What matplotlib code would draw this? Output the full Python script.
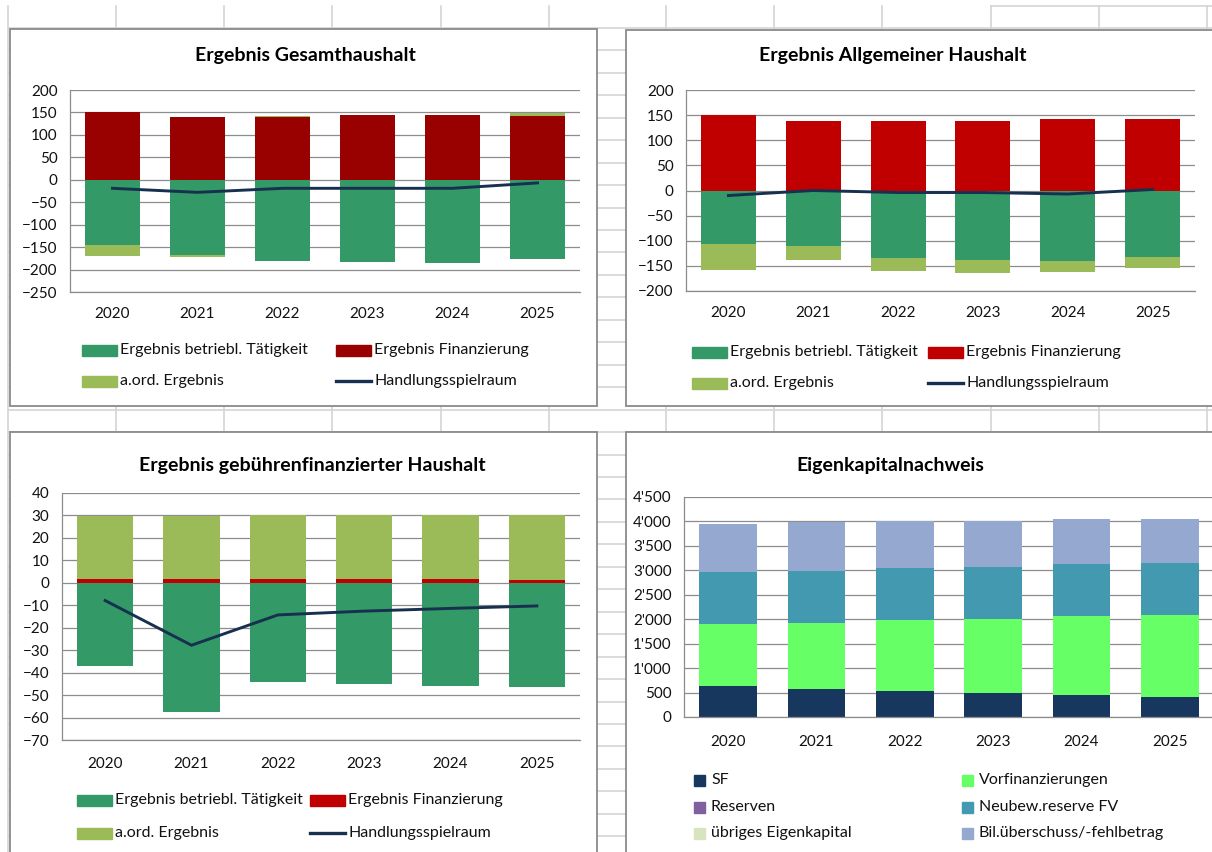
import matplotlib
matplotlib.use('Agg')
import matplotlib.pyplot as plt
from matplotlib.patches import Rectangle
from matplotlib.ticker import FuncFormatter

plt.rcParams['font.family'] = ['Lato', 'DejaVu Sans']

W, H = 1212, 852

years = ['2020', '2021', '2022', '2023', '2024', '2025']

# Ergebnis Gesamthaushalt
gh_betrieb = [-145, -168, -180, -184, -186, -177]
gh_finanz = [151, 140, 140, 144, 144, 143]
gh_aord = [-24, -3, 3, 1, 1, 6]
gh_hsr = [-19, -28, -19, -19, -19, -7]

# Ergebnis Allgemeiner Haushalt
ah_betrieb = [-107, -111, -134, -138, -141, -132]
ah_finanz = [150, 139, 139, 139, 142, 142]
ah_aord = [-51, -27, -27, -26, -22, -23]
ah_hsr = [-10, 0, -4, -4, -7, 2]

# Ergebnis gebührenfinanzierter Haushalt
gf_betrieb = [-37.2, -57.7, -44.3, -44.9, -46.1, -46.5]
gf_finanz = [1.8, 1.8, 1.8, 1.8, 1.8, 1.2]
gf_aord = [27.8, 27.8, 28.2, 28.2, 28.2, 28.8]
gf_hsr = [-7.9, -27.8, -14.3, -12.6, -11.4, -10.3]

# Eigenkapitalnachweis
ek_sf = [642, 568, 534, 486, 459, 405]
ek_vorfin = [1263, 1364, 1452, 1521, 1609, 1683]
ek_reserven = [0, 0, 0, 0, 0, 0]
ek_neubew = [1054, 1054, 1055, 1061, 1060, 1054]
ek_uebrig = [0, 0, 0, 0, 0, 0]
ek_bil = [994, 994, 973, 946, 913, 899]

C_BETRIEB = '#339966'
C_AORD = '#9BBB59'
C_LINE = '#17304F'
C_GRID = '#8C8C8C'
C_SF = '#17375E'
C_VORFIN = '#66FF66'
C_RES = '#7F5F9E'
C_NEUBEW = '#4399B0'
C_UEBRIG = '#D7E4BD'
C_BIL = '#95A9D0'

TICK_FS = 11
LEG_FS = 11.5
TITLE_FS = 14

fig = plt.figure(figsize=(W / 100, H / 100), dpi=100)

# excel sheet background
bg = fig.add_axes([0, 0, 1, 1])
bg.set_xlim(0, W)
bg.set_ylim(H, 0)
bg.axis('off')
col_x = [8, 116, 224, 332, 441, 549, 666, 774, 882, 991, 1099, 1207]
for cx in col_x:
    bg.plot([cx, cx], [6, H], color='#D4D4D4', lw=1.2, zorder=1)
r = 28.0
while r < H:
    bg.plot([8, W], [r, r], color='#D4D4D4', lw=1.2, zorder=1)
    r += 22.45
bg.plot([991, W], [6, 6], color='#D4D4D4', lw=1.2, zorder=1)

frames = [(10, 29, 597, 406), (626, 30, 1214, 406),
          (10, 432, 597, 856), (626, 432, 1214, 856)]
for x0, y0, x1, y1 in frames:
    bg.add_patch(Rectangle((x0, y0), x1 - x0, y1 - y0, facecolor='white',
                           edgecolor='#8A8A8A', lw=1.3, zorder=2))


def px_axes(x0, y0, x1, y1):
    return fig.add_axes([x0 / W, 1 - y1 / H, (x1 - x0) / W, (y1 - y0) / H])


def style_axes(ax, lo, hi, step, xpad, fmt=None):
    ax.set_facecolor('none')
    ax.set_xlim(-0.5, 5.5)
    ax.set_ylim(lo, hi)
    ticks = [lo + i * step for i in range(int(round((hi - lo) / step)) + 1)]
    ax.set_yticks(ticks)
    if fmt:
        ax.yaxis.set_major_formatter(FuncFormatter(fmt))
    ax.set_xticks(range(len(years)))
    ax.set_xticklabels(years)
    ax.tick_params(length=0, labelsize=TICK_FS, labelcolor='#111111')
    ax.tick_params(axis='x', pad=xpad)
    ax.tick_params(axis='y', pad=9)
    ax.yaxis.grid(True, color=C_GRID, lw=0.9)
    ax.set_axisbelow(True)
    for s in ['top', 'right']:
        ax.spines[s].set_visible(False)
    for s in ['left', 'bottom']:
        ax.spines[s].set_color(C_GRID)
        ax.spines[s].set_linewidth(0.9)


def stacked(ax, series, colors, width=0.65):
    pos = [0.0] * len(years)
    neg = [0.0] * len(years)
    for vals, col in zip(series, colors):
        bottoms = []
        for i, v in enumerate(vals):
            if v >= 0:
                bottoms.append(pos[i])
                pos[i] += v
            else:
                bottoms.append(neg[i])
                neg[i] += v
        ax.bar(range(len(years)), vals, bottom=bottoms, width=width,
               color=col, linewidth=0, zorder=2)


def legend_entry(x, y, label, color, kind='bar', w=35, h=11, gap=3):
    if kind == 'bar':
        bg.add_patch(Rectangle((x, y - h / 2), w, h, color=color, zorder=3))
    else:
        bg.plot([x, x + w], [y, y], color=color, lw=2.4, zorder=3)
    bg.text(x + w + gap, y, label, ha='left', va='center', fontsize=LEG_FS,
            color='#111111', zorder=3)


def result_chart(box, lo, hi, step, betrieb, finanz, aord, hsr, red,
                 title, tx, ty, leg_x, leg_y, xpad):
    ax = px_axes(*box)
    style_axes(ax, lo, hi, step, xpad)
    stacked(ax, [betrieb, finanz, aord], [C_BETRIEB, red, C_AORD])
    ax.plot(range(len(years)), hsr, color=C_LINE, lw=2.1, zorder=3)
    bg.text(tx, ty, title, ha='center', va='center', fontsize=TITLE_FS,
            fontweight='bold', zorder=3)
    legend_entry(leg_x[0], leg_y[0], 'Ergebnis betriebl. Tätigkeit', C_BETRIEB)
    legend_entry(leg_x[1], leg_y[0], 'Ergebnis Finanzierung', red)
    legend_entry(leg_x[0], leg_y[1], 'a.ord. Ergebnis', C_AORD)
    legend_entry(leg_x[1], leg_y[1], 'Handlungsspielraum', C_LINE, kind='line')
    return ax


result_chart((70, 90, 580, 292), -250, 200, 50,
             gh_betrieb, gh_finanz, gh_aord, gh_hsr, '#990000',
             'Ergebnis Gesamthaushalt', 305, 56, (82, 336), (350, 381), 11)
result_chart((686, 90, 1195, 291), -200, 200, 50,
             ah_betrieb, ah_finanz, ah_aord, ah_hsr, '#C00000',
             'Ergebnis Allgemeiner Haushalt', 893, 56, (692, 928), (352, 383), 11)
result_chart((62, 493, 580, 740), -70, 40, 10,
             gf_betrieb, gf_finanz, gf_aord, gf_hsr, '#C00000',
             'Ergebnis gebührenfinanzierter Haushalt', 312, 466, (77, 310), (800, 833), 12)

# Eigenkapitalnachweis
ax4 = px_axes(684, 497, 1214, 717)
style_axes(ax4, 0, 4500, 500, 13,
           fmt=lambda v, p: f'{int(v):,}'.replace(',', "'"))
ek_series = [ek_sf, ek_vorfin, ek_reserven, ek_neubew, ek_uebrig, ek_bil]
ek_colors = [C_SF, C_VORFIN, C_RES, C_NEUBEW, C_UEBRIG, C_BIL]
stacked(ax4, ek_series, ek_colors)
bg.text(890, 466, 'Eigenkapitalnachweis', ha='center', va='center',
        fontsize=TITLE_FS, fontweight='bold', zorder=3)
ek_labels = ['SF', 'Vorfinanzierungen', 'Reserven', 'Neubew.reserve FV',
             'übriges Eigenkapital', 'Bil.überschuss/-fehlbetrag']
ek_rows = [780, 807, 833]
for i, (lab, col) in enumerate(zip(ek_labels, ek_colors)):
    x = 694 if i % 2 == 0 else 962
    legend_entry(x, ek_rows[i // 2], lab, col, w=11, h=11, gap=6)

fig.savefig('out.png', dpi=100)
